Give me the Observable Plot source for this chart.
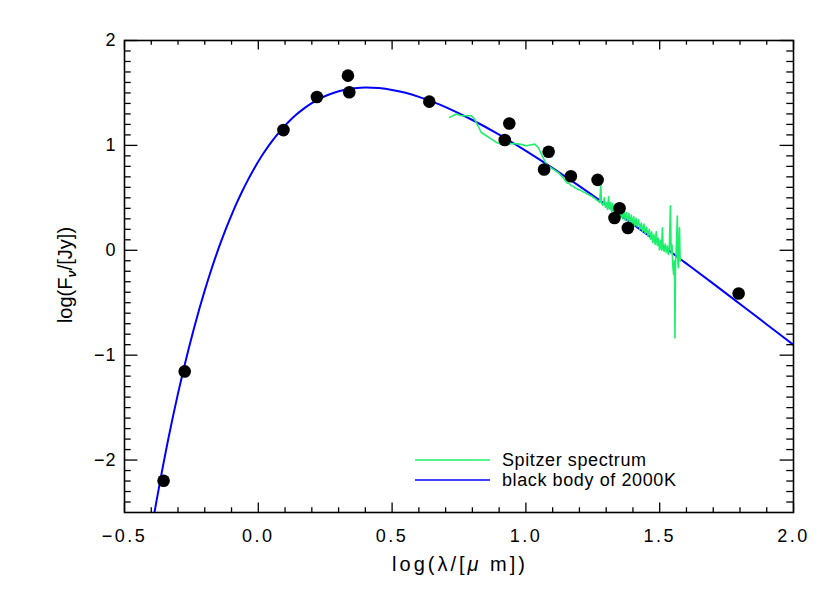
<!DOCTYPE html>
<html><head><meta charset="utf-8">
<script src="https://cdn.jsdelivr.net/npm/d3@7"></script>
<script src="https://cdn.jsdelivr.net/npm/@observablehq/plot@0.6"></script>
<style>
body{margin:0;background:#fff}
#wrap{position:relative;width:830px;height:593px}
</style>
</head><body><div id="wrap"></div>
<script>
// photometry (black dots)
const photX = [-0.354,-0.275,0.094,0.219,0.335,0.340,0.639,0.938,0.921,1.085,1.068,1.168,1.268,1.350,1.331,1.381,1.795];
const photY = [-2.197,-1.155,1.146,1.462,1.665,1.506,1.417,1.209,1.051,0.939,0.770,0.706,0.671,0.400,0.308,0.212,-0.412];
// black body of 2000K
const bbX = [-0.40,-0.38,-0.36,-0.34,-0.32,-0.30,-0.28,-0.26,-0.24,-0.22,-0.20,-0.18,-0.16,-0.14,-0.12,-0.10,-0.08,-0.06,-0.04,-0.02,0.00,0.02,0.05,0.08,0.11,0.14,0.17,0.20,0.24,0.28,0.32,0.36,0.40,0.45,0.50,0.55,0.60,0.65,0.70,0.80,0.90,1.00,1.10,1.20,1.30,1.40,1.50,1.60,1.70,1.80,1.90,2.00];
const bbY = [-2.678,-2.384,-2.108,-1.845,-1.598,-1.364,-1.143,-0.936,-0.740,-0.555,-0.382,-0.219,-0.066,0.077,0.212,0.336,0.454,0.563,0.664,0.758,0.846,0.927,1.036,1.132,1.216,1.289,1.351,1.403,1.459,1.500,1.529,1.545,1.552,1.546,1.529,1.501,1.463,1.417,1.365,1.242,1.102,0.947,0.783,0.611,0.432,0.249,0.063,-0.127,-0.318,-0.512,-0.707,-0.903];
// Spitzer spectrum (green)
const specX = [0.715,0.727,0.740,0.758,0.783,0.796,0.808,0.821,0.833,0.852,0.871,0.890,0.908,0.933,0.952,0.977,1.002,1.021,1.033,1.046,1.058,1.073,1.083,1.102,1.121,1.139,
  1.152,1.158,1.164,1.170,1.176,1.183,1.190,1.196,1.202,1.208,1.215,1.221,1.227,1.233,1.240,1.246,1.252,1.258,1.264,1.270,1.276,1.280,1.282,1.288,1.293,1.297,1.301,1.305,1.309,1.312,1.316,1.320,1.324,1.328,1.333,1.337,1.341,1.346,1.350,1.354,1.358,1.362,1.367,1.371,1.376,1.380,1.385,1.389,1.394,1.398,1.403,1.407,1.412,1.416,1.421,1.426,1.431,1.436,1.441,1.446,1.451,1.456,1.461,1.466,1.470,1.474,1.478,1.483,1.487,1.491,1.495,1.499,1.503,1.507,1.510,1.513,1.517,1.521,1.525,1.529,1.532,1.536,1.540,1.543,1.546,1.549,1.552,1.555,1.557,1.559,1.561,1.563,1.566,1.568,1.570,1.572,1.574,1.576,1.577];
const specY = [1.267,1.283,1.299,1.283,1.283,1.283,1.251,1.187,1.123,1.092,1.060,1.028,1.012,1.012,1.018,1.012,0.996,1.006,1.012,0.980,0.917,0.837,0.805,0.773,0.741,0.693,
  0.645,0.640,0.630,0.615,0.612,0.597,0.590,0.578,0.575,0.566,0.555,0.550,0.538,0.534,0.520,0.518,0.502,0.495,0.480,0.470,0.455,0.636,0.450,0.430,0.500,0.410,0.455,0.390,0.510,0.395,0.455,0.370,0.445,0.355,0.430,0.345,0.410,0.330,0.400,0.315,0.385,0.300,0.380,0.285,0.360,0.275,0.350,0.260,0.335,0.245,0.320,0.235,0.305,0.225,0.290,0.200,0.260,0.180,0.250,0.160,0.220,0.135,0.200,0.105,0.175,0.075,0.150,0.055,0.175,0.045,0.115,0.005,0.095,0.000,0.215,0.010,-0.010,0.060,-0.020,0.040,-0.040,0.020,0.423,-0.030,0.050,-0.150,-0.230,-0.100,-0.837,-0.120,-0.050,0.100,0.327,-0.120,-0.167,0.050,0.215,-0.050,-0.103];
// axes
const xMajor = [-0.5,0.0,0.5,1.0,1.5,2.0];
const xMinor = [-0.4,-0.3,-0.2,-0.1,0.1,0.2,0.3,0.4,0.6,0.7,0.8,0.9,1.1,1.2,1.3,1.4,1.6,1.7,1.8,1.9];
const yMajor = [-2,-1,0,1,2];
const yMinor = [-2.4,-2.3,-2.2,-2.1,-1.9,-1.8,-1.7,-1.6,-1.5,-1.4,-1.3,-1.2,-1.1,-0.9,-0.8,-0.7,-0.6,-0.5,-0.4,-0.3,-0.2,-0.1,0.1,0.2,0.3,0.4,0.5,0.6,0.7,0.8,0.9,1.1,1.2,1.3,1.4,1.5,1.6,1.7,1.8,1.9];
const legendLabels = ["Spitzer spectrum","black body of 2000K"];
const specColor = "#1ef06c", bbColor = "#0000ff";

const phot = photX.map((x,i)=>({x, y: photY[i]}));
const bb = bbX.map((x,i)=>({x, y: bbY[i]}));
const spec = specX.map((x,i)=>({x, y: specY[i]}));

const W=830, H=593, mL=124, mR=37, mT=40, mB=81;
const fw = W-mL-mR, fh = H-mT-mB;
const font = "'Liberation Sans', Arial, sans-serif";

const chart = Plot.plot({
  width: W, height: H,
  marginLeft: mL, marginRight: mR, marginTop: mT, marginBottom: mB,
  style: {fontFamily: font, fontSize: "18px", background: "white", color: "black", overflow: "visible"},
  x: {domain: [-0.5, 2.0]},
  y: {domain: [-2.5, 2.0]},
  marks: [
    Plot.line(bb, {x: "x", y: "y", stroke: bbColor, strokeWidth: 2, curve: "catmull-rom", clip: true}),
    Plot.line(spec, {x: "x", y: "y", stroke: specColor, strokeWidth: 1.6, clip: true}),
    Plot.dot(phot, {x: "x", y: "y", r: 6.3, fill: "black", stroke: "none"}),
    Plot.ruleX(xMajor, {insetTop: fh-9.5, stroke: "black", strokeWidth: 1.3}),
    Plot.ruleX(xMajor, {insetBottom: fh-9.5, stroke: "black", strokeWidth: 1.3}),
    Plot.ruleX(xMinor, {insetTop: fh-4.7, stroke: "black", strokeWidth: 1.3}),
    Plot.ruleX(xMinor, {insetBottom: fh-4.7, stroke: "black", strokeWidth: 1.3}),
    Plot.ruleY(yMajor, {insetRight: fw-13.4, stroke: "black", strokeWidth: 1.3}),
    Plot.ruleY(yMajor, {insetLeft: fw-13.4, stroke: "black", strokeWidth: 1.3}),
    Plot.ruleY(yMinor, {insetRight: fw-6.7, stroke: "black", strokeWidth: 1.3}),
    Plot.ruleY(yMinor, {insetLeft: fw-6.7, stroke: "black", strokeWidth: 1.3}),
    Plot.frame({stroke: "black", strokeWidth: 1.6}),
    Plot.axisX(xMajor, {tickSize: 0, tickPadding: 17, tickFormat: d3.format(".1f"), label: null, fontSize: 18}),
    Plot.axisY(yMajor, {tickSize: 0, tickPadding: 8, tickFormat: d3.format("d"), label: null, fontSize: 18})
  ]
});
document.getElementById("wrap").appendChild(chart);

const svg = d3.select(chart);
svg.selectAll('g[aria-label="x-axis tick label"] text').style("letter-spacing", "2.5px");
svg.selectAll('g[aria-label="y-axis tick label"] text').style("letter-spacing", "1px");
// x axis title
const xt = svg.append("text").attr("x", 460).attr("y", 571).attr("text-anchor", "middle")
  .attr("font-family", font).attr("font-size", 20).attr("fill", "black").style("letter-spacing", "3px");
xt.append("tspan").text("log(λ/[");
xt.append("tspan").attr("font-style", "italic").text("μ");
xt.append("tspan").text(" m])");
// y axis title
const yt = svg.append("text").attr("transform", "translate(72,275) rotate(-90)").attr("text-anchor", "middle")
  .attr("font-family", font).attr("font-size", 20).attr("fill", "black");
yt.append("tspan").text("log(F");
yt.append("tspan").attr("font-style", "italic").attr("font-weight", "bold").attr("font-size", 13).attr("dy", 4).text("ν");
yt.append("tspan").attr("dy", -4).text("/[Jy])");
// legend
const lg = svg.append("g").attr("font-family", font).attr("font-size", 18).attr("text-anchor", "start");
[specColor, bbColor].forEach((c, i) => {
  const yy = 460 + i*20;
  lg.append("line").attr("x1", 415).attr("x2", 490).attr("y1", yy).attr("y2", yy).attr("stroke", c).attr("stroke-width", 1.6);
  lg.append("text").attr("x", 502).attr("y", yy).attr("dy", "0.35em").attr("fill", "black").style("letter-spacing", "0.6px").text(legendLabels[i]);
});
</script>
</body></html>
